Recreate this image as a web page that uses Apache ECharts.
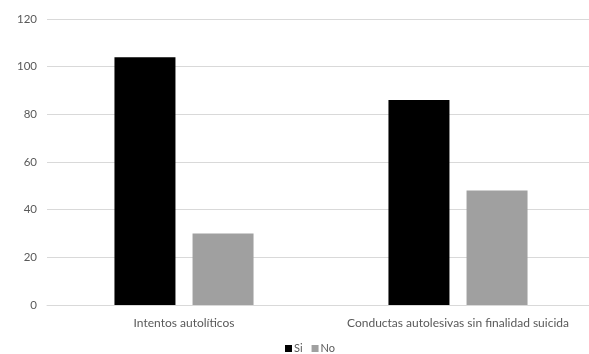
<!DOCTYPE html>
<html><head><meta charset="utf-8">
<style>html,body{margin:0;padding:0;background:#fff;overflow:hidden}#c{width:600px;height:354px}</style>
<script src="https://cdn.jsdelivr.net/npm/echarts@6/dist/echarts.min.js"></script>
</head><body><div id="c"></div>
<script>
var categories = ["Intentos autolíticos", "Conductas autolesivas sin finalidad suicida"];
var siValues = [104, 86];
var noValues = [30, 48];
var seriesNames = ["Si", "No"];

var chart = echarts.init(document.getElementById('c'), null, {renderer: 'canvas'});
var font = 'Lato, "Open Sans", sans-serif';
chart.setOption({
  animation: false,
  textStyle: {fontFamily: font},
  grid: {left: 47, top: 19, width: 548, height: 286, containLabel: false},
  legend: {
    data: seriesNames, left: 285, top: 343, padding: 0, itemWidth: 7, itemHeight: 7, itemGap: 9,
    icon: 'rect', textStyle: {fontFamily: font, fontSize: 11, color: '#595959', padding: [0,0,0,-3]}
  },
  xAxis: {
    type: 'category', data: categories,
    axisLine: {show: true, lineStyle: {color: '#d9d9d9'}},
    axisTick: {show: false},
    axisLabel: {interval: 0, hideOverlap: false, fontFamily: font, fontSize: 12, color: '#595959', margin: 12}
  },
  yAxis: {
    type: 'value', min: 0, max: 120, interval: 20,
    axisLine: {show: false}, axisTick: {show: false},
    splitLine: {lineStyle: {color: '#d9d9d9', width: 1}},
    axisLabel: {fontFamily: font, fontSize: 11.5, color: '#595959', margin: 10}
  },
  series: [
    {name: seriesNames[0], type: 'bar', data: siValues, barWidth: 61, barGap: '28%', itemStyle: {color: '#000000'}},
    {name: seriesNames[1], type: 'bar', data: noValues, barWidth: 61, itemStyle: {color: '#a0a0a0'}}
  ]
});
</script></body></html>
